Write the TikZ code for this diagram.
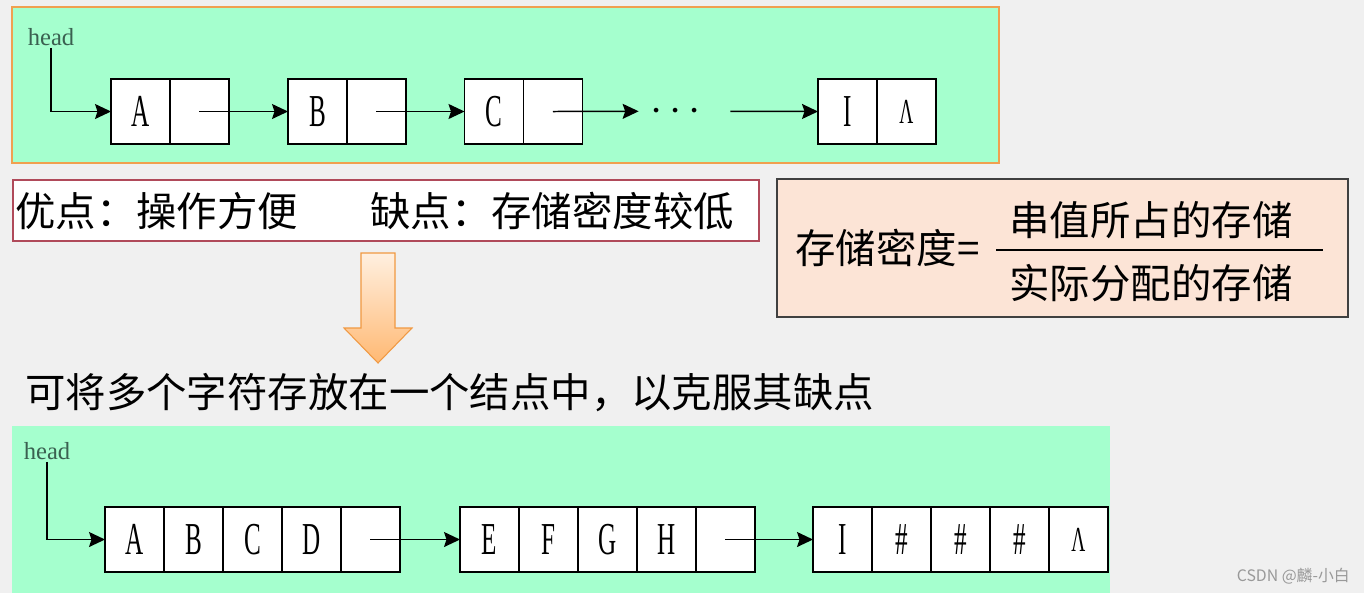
\documentclass[tikz,border=0pt]{standalone}
\usepackage{fontspec}
\usepackage{tikz}
\usetikzlibrary{positioning,arrows.meta}
\setmainfont{Liberation Serif}
\newfontfamily\cjk{Noto Sans CJK SC}
\newfontfamily\narrowserif[FakeStretch=0.55]{Liberation Serif}
\definecolor{panelgreen}{HTML}{A5FFCE}
\definecolor{panelorange}{HTML}{F0A050}
\definecolor{prosred}{HTML}{B04A5A}
\definecolor{densfill}{HTML}{FCE4D6}
\definecolor{headgreen}{HTML}{3A6050}
\tikzset{
  cell/.style={draw, line width=0.8pt, fill=white, minimum width=1.18cm, minimum height=1.3cm,
    inner sep=0pt, outer sep=0pt, font=\narrowserif\fontsize{26}{26}\selectfont},
  link/.style={-{Stealth[length=0.32cm, width=0.3cm, inset=0.05cm]}, line width=0.85pt},
  headlbl/.style={inner sep=1pt, text=headgreen, font=\fontsize{14}{14}\selectfont},
  cjktext/.style={inner sep=0pt, font=\cjk\fontsize{23}{27}\selectfont}
}
\newcommand{\nullptr}{{\fontsize{20}{20}\selectfont Λ}}
\begin{document}
\begin{tikzpicture}[x=0.02cm, y=-0.02cm]
	\useasboundingbox (0,0) rectangle (1364,593);
	\fill[black!6] (0,0) rectangle (1364,593);
	
	% Top chain: one character per node
	\draw[line width=1pt, draw=panelorange, fill=panelgreen] (12,7) rectangle (999,163);
	\node[headlbl] (head1) at (51,37) {head};
	\node[cell] (A1) at (140.5,111.5) {A};
	\node[cell, right=0pt of A1] (A1p) {};
	\node[cell] (B1) at (317.5,111.5) {B};
	\node[cell, right=0pt of B1] (B1p) {};
	\node[cell] (C1) at (494,111.5) {C};
	\node[cell, right=0pt of C1] (C1p) {};
	\node[anchor=base, inner sep=0pt, font=\fontsize{23}{23}\selectfont] (dots) at (675.5,121) {$\cdots$};
	\node[cell] (I1) at (847.5,111.5) {I};
	\node[cell, right=0pt of I1] (I1p) {\nullptr};
	\draw[link] (head1.south) |- (A1.west);
	\draw[link] (A1p.center) -- (B1.west);
	\draw[link] (B1p.center) -- (C1.west);
	\draw[link] (C1p.center) -- ([xshift=-0.22cm]dots.west);
	\draw[link] ([xshift=0.58cm]dots.east) -- (I1.west);
	
	% Pros and cons
	\draw[line width=1.1pt, draw=prosred, fill=white] (13,180) rectangle (759,241);
	\node[cjktext, anchor=west] (pros) at (15,211) {优点：操作方便\hspace{1.44cm}缺点：存储密度较低};
	
	% Storage density
	\draw[line width=1pt, draw=black!75, fill=densfill] (777,179) rectangle (1348,317);
	\node[cjktext, anchor=west] (dens) at (795,248) {存储密度=};
	\node[cjktext] (num) at (1151,220) {串值所占的存储};
	\node[cjktext] (den) at (1151,283) {实际分配的存储};
	\draw[line width=1.1pt] (996,250) -- (1323,250);
	
	% Down arrow
	\draw[draw=orange!70!brown!80, line width=0.6pt, top color=orange!12, bottom color=orange!55]
		(361,253) -- (395,253) -- (395,328) -- (412,328) -- (378,363) -- (344,328) -- (361,328) -- cycle;
	\node[cjktext, anchor=west] (idea) at (25,393) {可将多个字符存放在一个结点中，以克服其缺点};
	
	% Bottom chain: four characters per node
	\fill[panelgreen] (12,426) rectangle (1110,593);
	\node[headlbl] (head2) at (47,451) {head};
	\node[cell] (g1c1) at (134.5,539.5) {A};
	\foreach \t [count=\i from 2, remember=\i as \j (initially 1)] in {B,C,D,{}}
		\node[cell, right=0pt of g1c\j] (g1c\i) {\t};
	\node[cell] (g2c1) at (489.5,539.5) {E};
	\foreach \t [count=\i from 2, remember=\i as \j (initially 1)] in {F,G,H,{}}
		\node[cell, right=0pt of g2c\j] (g2c\i) {\t};
	\node[cell] (g3c1) at (842.5,539.5) {I};
	\foreach \t [count=\i from 2, remember=\i as \j (initially 1)] in {\#,\#,\#,\nullptr}
		\node[cell, right=0pt of g3c\j] (g3c\i) {\t};
	\draw[link] (head2.south) |- (g1c1.west);
	\draw[link] (g1c5.center) -- (g2c1.west);
	\draw[link] (g2c5.center) -- (g3c1.west);
	
	\node[anchor=east, inner sep=0pt, text=black!40, font=\cjk\fontsize{9}{9}\selectfont] (mark) at (1350,576) {CSDN @麟-小白};
\end{tikzpicture}
\end{document}
